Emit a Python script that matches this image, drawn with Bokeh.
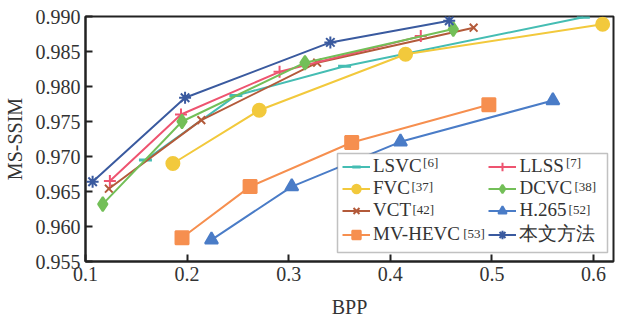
from bokeh.plotting import figure
from bokeh.models import (Legend, LegendItem, Label, FixedTicker, NumeralTickFormatter,
                          Range1d, BoxAnnotation)
from bokeh.embed import file_html
from bokeh.resources import INLINE

# ---- data ----
lsvc_x = [0.159, 0.248, 0.355, 0.590]
lsvc_y = [0.9695, 0.9787, 0.9829, 0.9899]
fvc_x = [0.186, 0.271, 0.415, 0.609]
fvc_y = [0.9690, 0.9766, 0.9846, 0.9889]
vct_x = [0.123, 0.214, 0.328, 0.482]
vct_y = [0.9654, 0.9752, 0.9834, 0.9884]
mvhevc_x = [0.195, 0.262, 0.362, 0.497]
mvhevc_y = [0.9584, 0.9657, 0.9720, 0.9774]
llss_x = [0.124, 0.194, 0.291, 0.430]
llss_y = [0.9665, 0.9760, 0.9821, 0.9872]
dcvc_x = [0.117, 0.195, 0.316, 0.462]
dcvc_y = [0.9632, 0.9750, 0.9834, 0.9882]
h265_x = [0.224, 0.303, 0.410, 0.560]
h265_y = [0.9581, 0.9657, 0.9721, 0.9780]
ours_x = [0.107, 0.198, 0.341, 0.458]
ours_y = [0.9664, 0.9784, 0.9863, 0.9894]

names = ["LSVC", "FVC", "VCT", "MV-HEVC", "LLSS", "DCVC", "H.265", "本文方法"]
refs = ["[6]", "[37]", "[42]", "[53]", "[7]", "[38]", "[52]", ""]

x_ticks = [0.1, 0.2, 0.3, 0.4, 0.5, 0.6]
y_ticks = [0.955, 0.960, 0.965, 0.970, 0.975, 0.980, 0.985, 0.990]

series = [
    (lsvc_x, lsvc_y, "#45bdb3", "dash", 13, 3),
    (fvc_x, fvc_y, "#f2c93c", "circle", 13, 2),
    (vct_x, vct_y, "#b35a3a", "x", 11, 2),
    (mvhevc_x, mvhevc_y, "#f68f4f", "square", 13, 2),
    (llss_x, llss_y, "#ee5470", "cross", 12, 2),
    (dcvc_x, dcvc_y, "#73bf58", "diamond", 14, 2),
    (h265_x, h265_y, "#4a7cc7", "triangle", 13, 2),
    (ours_x, ours_y, "#3a5a9f", "asterisk", 12, 2),
]

W, H = 618, 325
FRAME_L, FRAME_T, FRAME_B, FRAME_R = 85, 16, 261, 613
PX_PER_X = 1016.0
PX_PER_Y = 7000.0
FONT = "Liberation Serif"

p = figure(width=W, height=H, output_backend="svg", toolbar_location=None,
           x_range=Range1d(0.1, 0.1 + (FRAME_R - FRAME_L) / PX_PER_X),
           y_range=Range1d(0.955, 0.990),
           min_border_left=FRAME_L, min_border_right=W - FRAME_R,
           min_border_top=FRAME_T, min_border_bottom=H - FRAME_B,
           x_axis_label="BPP", y_axis_label="MS-SSIM")
p.grid.visible = False
p.outline_line_color = "#222222"
p.outline_line_width = 2
p.background_fill_color = "white"

for ax in (p.xaxis[0], p.yaxis[0]):
    ax.axis_line_width = 2
    ax.axis_line_color = "#222222"
    ax.major_tick_in = 7
    ax.major_tick_out = 0
    ax.major_tick_line_width = 2
    ax.major_tick_line_color = "#222222"
    ax.minor_tick_in = 0
    ax.minor_tick_out = 0
    ax.major_label_text_font = FONT
    ax.major_label_text_font_size = "20px"
    ax.major_label_text_color = "#333333"
    ax.axis_label_text_font = FONT
    ax.axis_label_text_font_size = "20px"
    ax.axis_label_text_font_style = "normal"
    ax.axis_label_text_color = "#333333"

p.xaxis.ticker = FixedTicker(ticks=x_ticks)
p.yaxis.ticker = FixedTicker(ticks=y_ticks)
p.xaxis.formatter = NumeralTickFormatter(format="0.0")
p.yaxis.formatter = NumeralTickFormatter(format="0.000")
p.xaxis.major_label_standoff = 5
p.yaxis.major_label_standoff = 5
p.xaxis.axis_label_standoff = 12
p.yaxis.axis_label_standoff = 7

items = []
for (xs, ys, col, mk, sz, lw), nm in zip(series, names):
    r1 = p.line(xs, ys, line_color=col, line_width=2)
    r2 = p.scatter(xs, ys, marker=mk, size=sz, line_color=col, fill_color=col, line_width=lw)
    label = nm
    if nm == "MV-HEVC":
        label = nm + "\u2003\u2002"
    items.append(LegendItem(label=label, renderers=[r1, r2]))


def dx(px):
    return 0.1 + (px - FRAME_L) / PX_PER_X


def dy(py):
    return 0.955 + (FRAME_B - py) / PX_PER_Y


LEG_L, LEG_R, LEG_T, LEG_B = 337, 607, 153, 252
PAD, SPACING, ROW, GLYPH_W, STANDOFF = 5, -1, 21, 28, 3
ROW_CENTERS = [163, 187, 210.5, 234]  # where the legend rows land on the page

# opaque legend frame (drawn above the data lines, below the legend entries)
p.add_layout(BoxAnnotation(left=dx(LEG_L), right=dx(LEG_R), top=dy(LEG_T), bottom=dy(LEG_B),
                           fill_color="white", fill_alpha=1.0,
                           line_color="#333333", line_width=1.5, level="guide"))

legend = Legend(items=items, location=(LEG_L - FRAME_L, FRAME_B - LEG_B), ncols=2,
                border_line_alpha=0, background_fill_alpha=0,
                padding=PAD, spacing=SPACING, margin=0,
                glyph_width=GLYPH_W, glyph_height=ROW, label_height=ROW,
                label_standoff=STANDOFF,
                label_text_font=FONT, label_text_font_size="19px",
                label_text_color="#333333")
p.add_layout(legend)

# superscript citation marks next to the legend labels
cw = {"L": .611, "S": .556, "V": .722, "C": .667, "F": .556, "T": .611, "M": .889,
      "-": .333, "H": .722, "E": .611, "D": .722, ".": .25}
for d in "0123456789":
    cw[d] = .5

col1_label = LEG_L + PAD + GLYPH_W + STANDOFF
col1_w = (sum(cw.get(c, .6) for c in "MV-HEVC") + 1.5) * 19
col2_label = col1_label + col1_w + SPACING + GLYPH_W + STANDOFF
col_start = [col1_label, col2_label]
for i, (nm, rf) in enumerate(zip(names, refs)):
    if not rf:
        continue
    col, row = divmod(i, 4)
    wbase = sum(cw.get(c, .6) for c in nm) * 19
    xc = col_start[col] + wbase + 1
    yc = ROW_CENTERS[row] - 9
    p.add_layout(Label(x=dx(xc), y=dy(yc), text=rf,
                       text_font=FONT, text_font_size="13px", text_color="#333333",
                       text_baseline="top", text_align="left", level="overlay"))

open("out.html", "w").write(file_html(p, INLINE))
